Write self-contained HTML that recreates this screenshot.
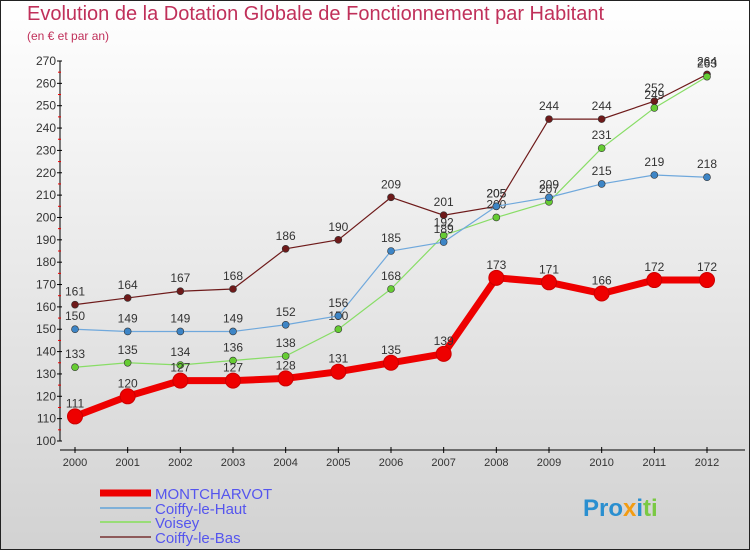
<!DOCTYPE html>
<html><head><meta charset="utf-8"><style>
body{margin:0}
#c{width:750px;height:550px;position:relative;box-sizing:border-box;border:1px solid #222;background:linear-gradient(#ffffff,#d2d2d2);font-family:"Liberation Sans",sans-serif;overflow:hidden}
.t{position:absolute;left:26px;top:2px;font-size:20px;color:#c0305a;white-space:nowrap}
.s{position:absolute;left:26px;top:28px;font-size:12px;color:#c0305a}
</style></head><body>
<div id="c">
<div class="t">Evolution de la Dotation Globale de Fonctionnement par Habitant</div>
<div class="s">(en € et par an)</div>
<svg id="svg" width="750" height="550" style="position:absolute;left:-1px;top:-1px"></svg>
</div>
<script>
const years=[2000,2001,2002,2003,2004,2005,2006,2007,2008,2009,2010,2011,2012];
const yTicks=[100,110,120,130,140,150,160,170,180,190,200,210,220,230,240,250,260,270];
const montcharvot=[111,120,127,127,128,131,135,139,173,171,166,172,172];
const coiffyHaut=[150,149,149,149,152,156,185,189,205,209,215,219,218];
const voisey=[133,135,134,136,138,150,168,192,200,207,231,249,263];
const coiffyBas=[161,164,167,168,186,190,209,201,205,244,244,252,264];
const seriesNames=["MONTCHARVOT","Coiffy-le-Haut","Voisey","Coiffy-le-Bas"];
const NS="http://www.w3.org/2000/svg",svg=document.getElementById('svg');
const x=i=>75+i*(707-75)/(years.length-1);
const y=v=>441-(v-100)*(380/170);
function mk(t,a,p){const e=document.createElementNS(NS,t);for(const k in a)e.setAttribute(k,a[k]);(p||svg).appendChild(e);return e;}
// axes
const ax=mk('g',{});


mk('line',{x1:60,y1:61,x2:60,y2:441,stroke:'#000'},ax);
mk('line',{x1:60,y1:450,x2:745,y2:450,stroke:'#000'},ax);
yTicks.forEach((v,i)=>{mk('line',{x1:57,x2:62,y1:y(v),y2:y(v),stroke:'#000'},ax);
 if(i<yTicks.length-1)mk('line',{x1:58,x2:61,y1:y(v+5),y2:y(v+5),stroke:'#e00'},ax);
 const t=mk('text',{x:56,y:y(v)+4,'text-anchor':'end','font-size':12,fill:'#333'},ax);t.textContent=v;
 });
years.forEach((yr,i)=>{mk('line',{x1:x(i),x2:x(i),y1:447,y2:453,stroke:'#000'},ax);
 const t=mk('text',{x:x(i),y:466,'text-anchor':'middle','font-size':11,fill:'#333'},ax);t.textContent=yr;
 });
const defs=[[coiffyBas,'#6e1a1a','#6e1a1a',1.2,3.5,'coiffy-le-bas'],[voisey,'#88dd66','#66cc33',1.2,3.5,'voisey'],[coiffyHaut,'#6fa8dc','#3d85c6',1.2,3.5,'coiffy-le-haut'],[montcharvot,'#ee0000','#ee0000',7,7.5,'montcharvot']];
defs.forEach(([d,c,fc,w,r,n])=>{const g=mk('g',{});
 
 mk('polyline',{points:d.map((v,i)=>x(i)+','+y(v)).join(' '),fill:'none',stroke:c,'stroke-width':w},g);
 d.forEach((v,i)=>{const p=mk('circle',{cx:x(i),cy:y(v),r:r,fill:fc,stroke:r>5?'#c00':'#333','stroke-width':r>5?1:0.6},g);
  
  const t=mk('text',{x:x(i),y:y(v)-9,'text-anchor':'middle','font-size':12,fill:'#333'},g);t.textContent=v;
  });});
// legend
const lg=mk('g',{});


const lc=['#ee0000','#7fb0d8','#99dd77','#8e5a5a'],lw=[7,2,2,2],ly=[493,508,522,537];
seriesNames.forEach((s,i)=>{const e=mk('g',{},lg);
 
 mk('line',{x1:100,x2:151,y1:ly[i],y2:ly[i],stroke:lc[i],'stroke-width':lw[i]},e);
 const t=mk('text',{x:155,y:ly[i]+6,'font-size':15,fill:'#5555ee'},e);t.textContent=s;});
// logo
const lt=mk('text',{x:583,y:516,'font-size':24,'font-weight':'bold',fill:'#2a8fd0'});

lt.innerHTML='Pro<tspan fill="#f39c12">x</tspan><tspan fill="#2a8fd0">i</tspan><tspan fill="#7ac943">ti</tspan>';
</script>
</body></html>
